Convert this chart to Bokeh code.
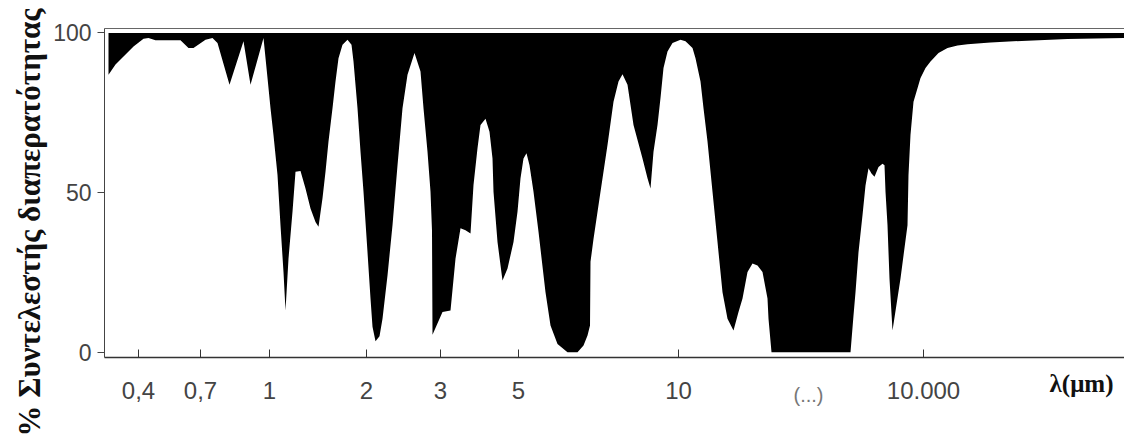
import math
from bokeh.plotting import figure
from bokeh.models import FixedTicker, Label, Range1d, LinearAxis
from bokeh.embed import file_html
from bokeh.resources import INLINE

# Position along the (non-uniform, broken) wavelength scale
scale_pos = [4, 11, 19, 29, 39, 44, 51, 76, 84, 89,
             101, 108, 113, 125, 139, 146, 159, 163, 166, 169,
             173, 176, 179, 181, 184, 188, 191, 196, 201, 206,
             211, 214, 218, 221, 224, 228, 231, 234, 238, 243,
             247, 249, 253, 256, 259, 263, 266, 268, 271, 275,
             278, 283, 288, 293, 298, 303, 310, 316, 319, 323,
             326, 327.5, 328, 338, 346, 351, 356, 361, 366, 369,
             373, 376, 381, 385, 388, 389, 393, 398, 403, 409,
             413, 416, 419, 422, 425, 429, 434, 441, 446, 453,
             463, 473, 479, 483, 485.5, 486, 489, 496, 503, 509,
             514, 518, 523, 529, 538, 543, 546, 549, 553, 556,
             559, 563, 568, 576, 581, 588, 591, 596, 599, 603,
             608, 613, 618, 623, 629, 634, 638, 643, 648, 653,
             658, 663, 664, 667, 746, 749, 751, 754, 758, 761,
             764, 767, 770, 774, 778, 780, 781, 783, 785, 788,
             796, 803, 804, 806, 809, 813, 816, 821, 826, 834,
             843, 853, 863, 886, 909, 963, 1020]
# Transmittance (%)
transmittance = [86.9, 90.1, 92.6, 95.8, 98.2, 98.4, 97.7, 97.7, 95.3, 95.3,
                 97.9, 98.4, 96.9, 83.8, 97.4, 83.8, 98.4, 85.9, 76.4, 68.0,
                 55.5, 39.7, 25.1, 13.1, 29.3, 44.0, 56.5, 56.8, 51.3, 45.0,
                 40.8, 39.3, 48.2, 56.5, 66.0, 76.4, 84.8, 92.1, 96.3, 97.9,
                 96.3, 91.1, 76.4, 62.8, 50.3, 31.3, 16.8, 8.0, 3.4, 5.0,
                 10.5, 24.0, 39.8, 58.5, 76.4, 86.9, 93.7, 87.9, 76.4, 62.8,
                 50.3, 38.0, 5.5, 12.6, 13.1, 29.3, 38.8, 38.2, 37.2, 52.4,
                 63.9, 71.2, 73.1, 69.1, 60.7, 50.3, 34.5, 22.5, 26.2, 34.5,
                 44.0, 54.5, 60.7, 62.3, 58.6, 50.3, 37.7, 18.8, 8.4, 2.6,
                 0.0, 0.0, 2.1, 5.2, 8.4, 28.3, 35.5, 50.3, 64.9, 78.5,
                 84.8, 87.1, 83.8, 71.2, 60.7, 54.5, 51.3, 62.8, 71.2, 79.6,
                 89.0, 94.2, 96.9, 97.9, 97.4, 95.3, 92.1, 84.8, 76.4, 66.0,
                 50.3, 34.5, 18.8, 10.5, 6.8, 12.6, 16.8, 25.1, 27.8, 27.2,
                 25.1, 16.8, 10.5, 0.0, 0.0, 11.5, 18.8, 31.3, 42.9, 52.2,
                 57.6, 56.0, 55.0, 58.0, 59.0, 58.6, 50.3, 39.8, 23.0, 6.8,
                 23.1, 39.8, 55.5, 68.1, 78.5, 82.7, 85.9, 89.0, 91.1, 93.7,
                 95.3, 96.1, 96.5, 97.0, 97.4, 98.1, 98.4]

tick_pos = [34, 96, 165, 262, 336, 414, 574, 819]
tick_labels = ["0,4", "0,7", "1", "2", "3", "5", "10", "10.000"]
y_ticks = [0, 50, 100]

AX_BOTTOM = -1.66
AX_TOP = 101.41

p = figure(width=1124, height=440, output_backend="svg", toolbar_location=None, title=None,
           x_range=Range1d(-104, 1020), y_range=Range1d(-27.66, 110.18),
           min_border_left=0, min_border_right=0, min_border_top=0, min_border_bottom=0)
p.outline_line_color = None
p.xgrid.visible = False
p.ygrid.visible = False
p.background_fill_color = "white"
p.border_fill_color = "white"

top_value = [100] * len(scale_pos)
p.varea(x=scale_pos, y1=transmittance, y2=top_value, fill_color="black")

xa = p.xaxis[0]
xa.fixed_location = AX_BOTTOM
xa.bounds = (0, 1020)
xa.ticker = FixedTicker(ticks=tick_pos)
xa.major_label_overrides = {t: l for t, l in zip(tick_pos, tick_labels)}
xa.major_tick_in = 8
xa.major_tick_out = 0
xa.minor_tick_line_color = None
xa.axis_line_color = "#333333"
xa.axis_line_width = 1.5
xa.major_tick_line_color = "#333333"
xa.major_label_text_font = "Liberation Sans"
xa.major_label_text_font_size = "24px"
xa.major_label_text_color = "#444444"
xa.major_label_standoff = 24

ya = p.yaxis[0]
ya.fixed_location = 0
ya.bounds = (AX_BOTTOM, AX_TOP)
ya.ticker = FixedTicker(ticks=y_ticks)
ya.major_tick_in = 0
ya.major_tick_out = 7
ya.minor_tick_line_color = None
ya.axis_line_color = "#444444"
ya.axis_line_width = 1
ya.major_tick_line_color = "#444444"
ya.major_label_text_font = "Liberation Sans"
ya.major_label_text_font_size = "23px"
ya.major_label_text_color = "#444444"
ya.major_label_standoff = 6

top_axis = LinearAxis(fixed_location=AX_TOP, bounds=(0, 1020), ticker=FixedTicker(ticks=[]),
                      axis_line_color="#666666", axis_line_width=1,
                      major_tick_line_color=None, minor_tick_line_color=None,
                      major_label_text_font_size="0px")
p.add_layout(top_axis, "above")

p.add_layout(Label(x=-75, y=40.6, text="% Συντελεστής διαπερατότητας", angle=math.pi / 2,
                   text_align="center", text_baseline="middle",
                   text_font="Liberation Serif", text_font_style="bold",
                   text_font_size="31px", text_color="#111111"))
p.add_layout(Label(x=704, y=-13.3, text="(...)", text_align="center", text_baseline="middle",
                   text_font="Liberation Sans", text_font_size="20px",
                   text_color="#777777"))
p.add_layout(Label(x=977, y=-9.8, text="λ(μm)", text_align="center", text_baseline="middle",
                   text_font="Liberation Serif", text_font_style="bold",
                   text_font_size="25px", text_color="#111111"))

open("out.html", "w").write(file_html(p, INLINE))
